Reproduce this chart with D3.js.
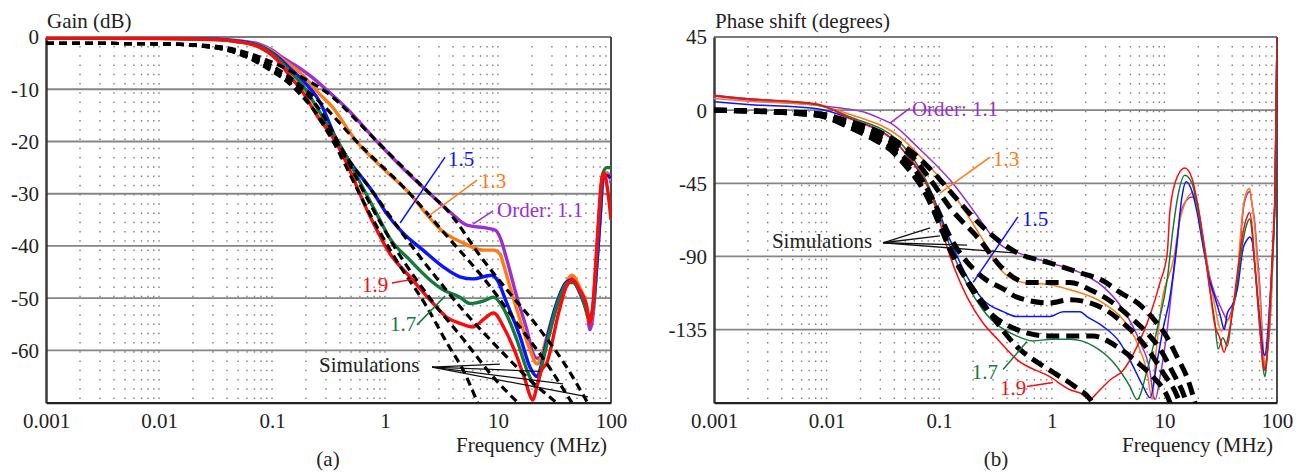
<!DOCTYPE html>
<html><head><meta charset="utf-8">
<script src="https://cdn.jsdelivr.net/npm/d3@7"></script>
<style>
body{margin:0;background:#fff}
</style>
</head><body>
<svg id="chart" width="1306" height="472"></svg>
<script>
// ---------------- DATA ----------------
const freqTicks = [0.001, 0.01, 0.1, 1, 10, 100];
const freqTickLabels = ["0.001", "0.01", "0.1", "1", "10", "100"];
const gainTicks = [0, -10, -20, -30, -40, -50, -60];
const phaseTicks = [45, 0, -45, -90, -135];
const orders = ["1.1", "1.3", "1.5", "1.7", "1.9"];
const orderColors = ["#9b2fd0", "#ff7a12", "#0a14ff", "#147a3c", "#ff0a0a"];

// measured gain [MHz, dB]
const gainMeas11 = [[0.001,-0.1],[0.01,-0.2],[0.03,-0.4],[0.05,-0.7],[0.078,-1.4],[0.1,-2.5],[0.118,-3.6],[0.144,-4.8],[0.177,-6.0],[0.22,-7.5],[0.3,-10],[0.45,-13.5],[0.85,-20],[1.5,-25.5],[2.5,-30],[3.76,-33.5],[5.3,-36],[8,-36.6],[9.5,-37],[10.4,-38.3],[12,-42.7],[14.7,-49.8],[18,-56],[20.4,-60.5],[22.2,-61.5],[23.5,-61.3],[27,-58.6],[33,-51.7],[41,-47.1],[45,-46.1],[53,-48.4],[61,-51.7],[65,-56],[69,-53.6],[80,-34.5],[85,-27.4],[92,-26],[98,-26.8],[100,-28]];
const gainMeas13 = [[0.001,-0.15],[0.01,-0.25],[0.03,-0.45],[0.05,-0.8],[0.078,-1.6],[0.1,-2.7],[0.118,-3.9],[0.144,-5.3],[0.177,-6.8],[0.266,-11],[0.33,-13],[0.56,-20],[1.0,-25.5],[1.66,-30],[2.35,-34],[3.07,-36.8],[5,-39.5],[7.4,-40.8],[9.1,-40.8],[10.4,-41.5],[11.1,-43.3],[12.8,-47.9],[15.7,-54.2],[19.2,-59.9],[22.2,-62.6],[23.5,-61.8],[27,-57.4],[33,-51],[40,-47],[45,-45.6],[53,-48],[61,-51.5],[65,-54.8],[69,-52.5],[80,-34],[85,-27],[92,-26],[100,-27.5]];
const gainMeas15 = [[0.001,0],[0.01,-0.2],[0.03,-0.4],[0.05,-0.8],[0.078,-1.7],[0.1,-3],[0.118,-4.2],[0.144,-6],[0.177,-7.8],[0.266,-12.5],[0.38,-20],[0.46,-23],[0.8,-30],[1.05,-34],[1.44,-37.5],[2.17,-40.8],[3.27,-44],[4.6,-45.9],[6,-46.3],[8.8,-45.6],[9.7,-46.3],[12,-51],[15.7,-57.4],[19.2,-63.2],[22.2,-65],[24,-63],[27,-58],[33,-51],[40,-47],[45,-46.5],[53,-49],[60,-52],[65,-54],[69,-52],[80,-35],[85,-27],[92,-26.5],[100,-27]];
const gainMeas17 = [[0.001,-0.1],[0.01,-0.25],[0.03,-0.45],[0.05,-0.9],[0.078,-1.8],[0.1,-3.2],[0.118,-4.6],[0.144,-6.6],[0.177,-8.6],[0.266,-14.5],[0.42,-21.5],[0.68,-30],[0.9,-35],[1.1,-38.5],[1.66,-42.7],[2.5,-46.5],[3.27,-48.4],[4.6,-49.8],[5.65,-51],[7.5,-50.5],[9.1,-49.8],[11,-51.7],[14.7,-58],[18,-63.7],[20.4,-66.3],[21.5,-67],[25,-62],[29,-56],[35,-50],[42,-47],[46,-47],[55,-49.5],[65,-54],[69,-52],[78,-35],[85,-26],[92,-25],[100,-25]];
const gainMeas19 = [[0.001,-0.25],[0.01,-0.3],[0.03,-0.5],[0.05,-0.9],[0.078,-2],[0.1,-3.5],[0.118,-5],[0.144,-7.5],[0.177,-9.8],[0.266,-15.9],[0.326,-18.4],[0.4,-21.6],[0.74,-34.4],[1.1,-41.4],[1.66,-45.9],[2.5,-50.3],[3.5,-53.6],[4.6,-54.8],[6,-55.5],[7.5,-54],[9.1,-52.8],[11.5,-56],[14,-60],[17,-65],[20.4,-69.5],[22,-67],[24,-64],[27,-62.4],[34.4,-52.8],[40,-47.9],[46,-46.5],[53,-48.5],[60,-51],[65,-54.8],[68,-53],[75,-40],[83,-27],[87,-26],[93,-29],[100,-35]];

// simulated gain [MHz, dB]
const gainSim11 = [[0.001,-1.2],[0.01,-1.3],[0.03,-1.7],[0.06,-3],[0.1,-4.8],[0.177,-7.5],[0.3,-10.5],[0.85,-20],[2.5,-30],[3.5,-33],[7.4,-42.7],[12,-48.4],[23.5,-56],[40,-63],[62,-70]];
const gainSim13 = [[0.001,-1.2],[0.01,-1.3],[0.03,-1.8],[0.06,-3.2],[0.1,-5.5],[0.266,-12.5],[0.56,-20],[1.66,-30],[3.5,-38],[8,-47],[15,-55],[28,-63],[45,-70]];
const gainSim15 = [[0.001,-1.2],[0.01,-1.3],[0.03,-1.9],[0.06,-3.5],[0.1,-6],[0.266,-14],[0.46,-23],[0.8,-30],[1.36,-37],[2.6,-45],[5,-52.5],[10,-59.5],[20,-66],[33,-70]];
const gainSim17 = [[0.001,-1.2],[0.01,-1.3],[0.03,-2],[0.06,-3.7],[0.1,-6.3],[0.266,-15.5],[0.42,-22],[0.74,-32],[1.2,-40],[2.5,-50],[5,-58],[9,-65],[15,-70]];
const gainSim19 = [[0.001,-1.2],[0.01,-1.3],[0.03,-2],[0.06,-3.9],[0.1,-6.6],[0.177,-10.5],[0.326,-19],[0.74,-34],[1.2,-42],[2.35,-51.7],[3.54,-58.6],[4.9,-63.7],[6.6,-70]];

// measured phase [MHz, degrees]
const phaseMeas11 = [[0.001,8.6],[0.0021,6.1],[0.0082,3.1],[0.016,0.5],[0.021,-1],[0.032,-6],[0.037,-8],[0.064,-22.6],[0.125,-43],[0.2449,-70],[0.283,-76],[0.37,-84],[0.49,-87.5],[0.96,-94],[1.78,-100],[2.85,-108.6],[4.31,-122.8],[6.1,-143],[7.47,-161.5],[8.0,-176],[8.3,-178],[9.15,-164],[10.6,-135],[11.9,-104],[12.6,-90],[13.8,-65],[15.5,-56],[17.6,-53.4],[19.4,-57],[22.2,-80],[25.3,-102.5],[28,-113],[31.5,-121],[34,-126],[36.2,-129],[40,-122],[44.5,-108],[47,-85],[50,-62],[54,-52],[57.3,-50],[60,-58],[63.5,-69],[67,-90],[70.6,-110],[75,-145],[78.3,-160],[82,-150],[86.8,-131],[92,-90],[96.2,-49],[100,45]];
const phaseMeas13 = [[0.001,7.2],[0.002,5.5],[0.008,3],[0.016,-2.5],[0.045,-16.6],[0.088,-37],[0.125,-49],[0.245,-80],[0.35,-98],[0.555,-106],[0.96,-107.4],[1.45,-110.5],[2.85,-118.6],[4.31,-129],[5.71,-143],[7.03,-161.5],[7.78,-178],[8.4,-150],[9.4,-120],[12.2,-90],[13.5,-70],[15.5,-56],[17.6,-51],[19.4,-57],[22.2,-82],[25.3,-104],[28,-120],[32,-136],[34,-133],[36.2,-130],[40,-124],[44.5,-104],[47,-80],[50,-60],[54,-50],[57.3,-48],[60,-58],[63.5,-72],[67,-95],[70.6,-115],[75,-148],[78.3,-158],[82,-150],[86.8,-128],[92,-90],[96.2,-49],[100,45]];
const phaseMeas15 = [[0.001,5.1],[0.002,3.5],[0.008,1],[0.016,-5],[0.045,-22.6],[0.088,-53.4],[0.125,-80],[0.177,-102.5],[0.245,-116.6],[0.37,-124],[0.49,-127],[0.74,-127],[0.96,-127],[1.26,-124],[1.78,-124],[2.05,-127],[2.85,-133],[4.03,-143],[5.27,-157.6],[6.48,-170],[7.47,-177],[8.6,-155],[9.7,-135],[11.2,-115],[13,-80],[14.2,-55],[15.6,-44],[17.6,-50],[19.4,-62],[22.2,-85],[25.3,-105],[28,-115],[31.5,-127],[34,-135],[36.2,-125],[40,-120],[44.5,-110],[50,-85],[54,-80],[57.3,-78],[60,-80],[63.5,-95],[70.6,-130],[75,-148],[78.3,-151],[82,-140],[86.8,-115],[92,-85],[96.2,-49],[100,45]];
const phaseMeas17 = [[0.001,9],[0.002,7],[0.008,3.5],[0.016,-4],[0.045,-20],[0.088,-53],[0.125,-84],[0.245,-123],[0.49,-139],[0.68,-142],[1.0,-141],[1.45,-141],[2.32,-145],[3.5,-155],[4.94,-170],[5.71,-178],[7.03,-160],[8.6,-135],[10.6,-104],[11.9,-73.6],[13,-55],[15.2,-40],[17.6,-45],[19.4,-58],[22.2,-82],[25.3,-110],[28,-130],[30,-147],[33,-140],[36.2,-145],[40,-125],[44.5,-105],[50,-80],[54,-70],[57.3,-67],[60,-75],[63.5,-95],[70.6,-135],[75,-158],[78.3,-164],[82,-150],[86.8,-120],[92,-85],[96.2,-49],[100,45]];
const phaseMeas19 = [[0.001,9.2],[0.002,7],[0.008,4],[0.016,-5],[0.045,-22.6],[0.088,-55],[0.125,-90],[0.177,-115],[0.245,-131],[0.33,-141],[0.49,-153.5],[0.96,-164],[1.45,-172],[1.78,-174],[2.18,-178],[2.52,-174],[3.29,-166],[4.31,-160],[5.71,-145.5],[7.47,-126],[9.15,-106],[10.6,-88],[11.2,-62],[13,-41],[15.2,-35.6],[17.6,-42],[19.4,-55],[22.2,-80],[25.3,-110],[28,-132],[31,-140],[33.9,-149],[36.2,-142],[40,-125],[44.5,-100],[50,-75],[54,-66],[57.3,-63],[60,-72],[63.5,-95],[70.6,-135],[75,-155],[78.3,-160],[82,-148],[86.8,-120],[92,-80],[96.2,-45],[100,45]];

// simulated phase [MHz, degrees]
const phaseSim11 = [[0.001,0],[0.008,-2],[0.016,-7],[0.037,-17],[0.06,-27],[0.088,-38],[0.125,-50],[0.245,-72],[0.5,-88],[0.96,-94],[1.78,-100],[2.85,-105],[4.0,-112],[6.1,-120],[7.9,-128],[10.6,-140],[13,-152],[16,-165],[18,-176],[19,-182]];
const phaseSim13 = [[0.001,0],[0.008,-2],[0.016,-8],[0.037,-19],[0.06,-30],[0.088,-45],[0.125,-60],[0.23,-80],[0.35,-96],[0.6,-106],[1.45,-106],[2.18,-110.5],[3.5,-118.6],[4.9,-127],[7,-137],[9.15,-147],[11.9,-161.5],[15,-176],[16,-182]];
const phaseSim15 = [[0.001,0],[0.008,-2.5],[0.016,-9],[0.037,-22],[0.06,-36],[0.088,-55],[0.125,-78],[0.245,-103],[0.37,-110],[0.49,-115],[0.96,-118.6],[1.45,-116.6],[2.18,-118.6],[3,-122.8],[4.3,-131],[5.7,-139],[7.9,-151.6],[9.7,-161.5],[13,-176],[14,-182]];
const phaseSim17 = [[0.001,0],[0.008,-3],[0.016,-10],[0.037,-24],[0.06,-40],[0.088,-60],[0.125,-85],[0.245,-120],[0.49,-135],[0.96,-139],[1.45,-139],[2.32,-139],[3.8,-145.5],[5.7,-155],[7.9,-164],[10.6,-176],[11.5,-182]];
const phaseSim19 = [[0.001,0],[0.008,-3],[0.016,-10.6],[0.024,-16.6],[0.037,-24.5],[0.05,-34],[0.078,-53],[0.1,-70],[0.125,-86],[0.245,-118.6],[0.49,-145.5],[0.96,-160],[1.6,-170],[2.2,-178],[2.4,-182]];

// ---------------- DRAW ----------------
const svg = d3.select("#chart");
const FONT = 21;
const FAMILY = "'Liberation Serif', 'Times New Roman', Tinos, serif";

function txt(sel) {
  return sel.style("font-family", FAMILY).style("font-size", FONT + "px");
}

function panel(cfg) {
  const x = d3.scaleLog().domain([0.001, 100]).range([cfg.x0, cfg.x1]);
  const y = d3.scaleLinear().domain(cfg.yDomain).range([cfg.y1, cfg.y0]);
  const g = svg.append("g");
  const clipId = "clip" + cfg.id;
  svg.append("clipPath").attr("id", clipId).append("rect")
    .attr("x", cfg.x0).attr("y", cfg.y0).attr("width", cfg.x1 - cfg.x0).attr("height", cfg.y1 - cfg.y0);

  // dotted minor grid (vertical dotted columns)
  const minor = [];
  [0.001, 0.01, 0.1, 1, 10].forEach(d => { for (let m = 2; m <= 10; m++) { const f = d * m; if (f < 99) minor.push(f); } });
  g.selectAll(".minor").data(minor).enter().append("line")
    .attr("x1", d => x(d)).attr("x2", d => x(d))
    .attr("y1", cfg.y0 + 9).attr("y2", cfg.y1 - 2)
    .attr("stroke", "#7d7d7d").attr("stroke-width", 1.4)
    .attr("stroke-dasharray", "1.4,7.85");

  // major horizontal grid
  g.selectAll(".major").data(cfg.ticks.slice(1)).enter().append("line")
    .attr("x1", cfg.x0).attr("x2", cfg.x1)
    .attr("y1", d => y(d)).attr("y2", d => y(d))
    .attr("stroke", "#858585").attr("stroke-width", 1.8);

  // frame
  g.append("line").attr("x1", cfg.x0).attr("x2", cfg.x1).attr("y1", cfg.y0).attr("y2", cfg.y0)
    .attr("stroke", "#7a7a7a").attr("stroke-width", 2);
  g.append("line").attr("x1", cfg.x1).attr("x2", cfg.x1).attr("y1", cfg.y0).attr("y2", cfg.y1)
    .attr("stroke", "#4a4a4a").attr("stroke-width", 2);

  // axes
  const yAxis = d3.axisLeft(y).tickValues(cfg.ticks).tickSize(0).tickPadding(7).tickFormat(d => String(d));
  const ya = g.append("g").attr("transform", `translate(${cfg.x0},0)`).call(yAxis);
  ya.select(".domain").attr("stroke", "#3a3a3a").attr("stroke-width", 2.5);
  txt(ya.selectAll("text")).attr("fill", "#222").attr("dy", "0.33em");

  const xAxis = d3.axisBottom(x).tickValues(freqTicks).tickSize(0).tickPadding(10)
    .tickFormat((d, i) => freqTickLabels[i]);
  const xa = g.append("g").attr("transform", `translate(0,${cfg.y1})`).call(xAxis);
  xa.select(".domain").attr("stroke", "#222").attr("stroke-width", 2.2);
  txt(xa.selectAll("text")).attr("fill", "#222");

  // titles
  txt(svg.append("text").attr("x", cfg.x0 + 1).attr("y", 28).attr("fill", "#222")).text(cfg.title);
  txt(svg.append("text").attr("x", cfg.x1 - 4).attr("y", 452).attr("text-anchor", "end").attr("fill", "#222")).text("Frequency (MHz)");
  txt(svg.append("text").attr("x", cfg.labelX).attr("y", 466).attr("text-anchor", "middle").attr("fill", "#222")).text(cfg.panelLabel);

  const line = d3.line().x(d => x(d[0])).y(d => y(d[1])).curve(d3.curveMonotoneX);
  const plot = svg.append("g").attr("clip-path", `url(#${clipId})`);
  cfg.meas.forEach((s, i) => {
    plot.append("path").attr("d", line(s)).attr("fill", "none")
      .attr("stroke", orderColors[i]).attr("stroke-width", cfg.measW).attr("stroke-linejoin", "round");
  });
  cfg.sims.forEach(s => {
    plot.append("path").attr("d", line(s)).attr("fill", "none")
      .attr("stroke", "#000").attr("stroke-width", cfg.simW).attr("stroke-dasharray", cfg.simDash);
  });

  // annotations
  cfg.labels.forEach(l => {
    svg.append("line").attr("x1", x(l.from[0])).attr("y1", y(l.from[1])).attr("x2", x(l.to[0])).attr("y2", y(l.to[1]))
      .attr("stroke", orderColors[l.c]).attr("stroke-width", 1.5);
    txt(svg.append("text").attr("x", x(l.at[0])).attr("y", y(l.at[1])).attr("fill", orderColors[l.c])).text(l.text);
  });
  txt(svg.append("text").attr("x", x(cfg.simText.at[0])).attr("y", y(cfg.simText.at[1])).attr("fill", "#222")).text("Simulations");
  cfg.simText.to.forEach(t => {
    svg.append("line").attr("x1", x(cfg.simText.from[0])).attr("y1", y(cfg.simText.from[1]))
      .attr("x2", x(t[0])).attr("y2", y(t[1])).attr("stroke", "#111").attr("stroke-width", 1.3);
  });
}

panel({
  id: "a", x0: 46, x1: 611, y0: 37, y1: 402.7, yDomain: [-70, 0], ticks: gainTicks,
  title: "Gain (dB)", panelLabel: "(a)", labelX: 328,
  meas: [gainMeas11, gainMeas13, gainMeas15, gainMeas17, gainMeas19],
  sims: [gainSim11, gainSim13, gainSim15, gainSim17, gainSim19],
  measW: 3.4, simW: 3.2, simDash: "8,5",
  labels: [
    {c: 0, text: "Order: " + orders[0], at: [9.8, -34.5], from: [6.01, -35.8], to: [9.04, -33.3]},
    {c: 1, text: orders[1], at: [6.93, -28.9], from: [2.35, -34.5], to: [6.52, -27.4]},
    {c: 2, text: orders[2], at: [3.61, -24.7], from: [1.36, -35.6], to: [3.40, -23]},
    {c: 4, text: orders[4], at: [0.625, -48.8], from: [1.153, -47.1], to: [1.84, -46.3]},
    {c: 3, text: orders[3], at: [1.107, -56.3], from: [1.92, -55.1], to: [3.40, -49.6]}
  ],
  simText: {at: [0.261, -64.1], from: [2.61, -63.2], to: [[10.4, -62.6], [23.5, -64], [37.6, -66.4], [62.5, -68.9]]}
});

panel({
  id: "b", x0: 714, x1: 1277, y0: 37, y1: 402.7, yDomain: [-180, 45], ticks: phaseTicks,
  title: "Phase shift (degrees)", panelLabel: "(b)", labelX: 996,
  meas: [phaseMeas11, phaseMeas13, phaseMeas15, phaseMeas17, phaseMeas19],
  sims: [phaseSim11, phaseSim13, phaseSim15, phaseSim17, phaseSim19],
  measW: 1.5, simW: 5, simDash: "13,7",
  labels: [
    {c: 0, text: "Order: " + orders[0], at: [0.0573, -3.7], from: [0.0366, -8], to: [0.055, 1.2]},
    {c: 1, text: orders[1], at: [0.30, -34.4], from: [0.1016, -51], to: [0.283, -28.9]},
    {c: 2, text: orders[2], at: [0.543, -71.2], from: [0.2, -106], to: [0.50, -65.7]},
    {c: 3, text: orders[3], at: [0.195, -165.7], from: [0.369, -159.6], to: [0.602, -142.4]},
    {c: 4, text: orders[4], at: [0.347, -175], from: [0.602, -170], to: [1.025, -167.6]}
  ],
  simText: {at: [0.00327, -84.7], from: [0.0317, -81.6], to: [[0.083, -72.4], [0.1015, -77.3], [0.177, -83], [0.49, -88]]}
});
</script>
</body></html>
